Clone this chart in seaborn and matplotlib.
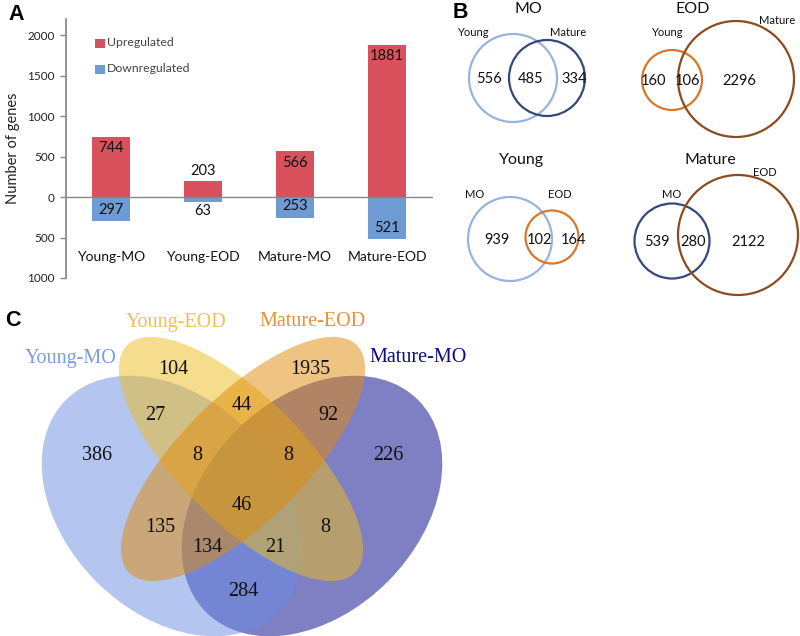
import numpy as np
import pandas as pd
import matplotlib
matplotlib.use("Agg")
import matplotlib.pyplot as plt
import seaborn as sns
from matplotlib.patches import Circle, Ellipse
from matplotlib.ticker import FuncFormatter

# A. differentially expressed genes per comparison
groups = ["Young-MO", "Young-EOD", "Mature-MO", "Mature-EOD"]
up_counts = [744, 203, 566, 1881]
down_counts = [297, 63, 253, 521]

# B. pairwise overlaps: (left only, shared, right only)
pair_titles = ["MO", "EOD", "Young", "Mature"]
pair_sets = [("Young", "Mature"), ("Young", "Mature"), ("MO", "EOD"), ("MO", "EOD")]
pair_counts = [(556, 485, 334), (160, 106, 2296), (939, 102, 164), (539, 280, 2122)]

# C. four-way overlap
quad_sets = ["Young-MO", "Young-EOD", "Mature-EOD", "Mature-MO"]
quad_regions = ["A", "B", "C", "D", "AB", "BC", "CD", "AD",
                "ABC", "BCD", "AC", "BD", "ACD", "ABD", "ABCD"]
quad_counts = [386, 104, 1935, 226, 27, 44, 92, 284, 8, 8, 135, 8, 134, 21, 46]

RED = "#D9515C"
BLUE = "#6E9BD4"
SANS = ["Lato", "DejaVu Sans"]
SERIF = ["Liberation Serif", "DejaVu Serif"]

sns.set_theme(style="white")
plt.rcParams["font.family"] = SANS

fig = plt.figure(figsize=(8, 6.36), dpi=100)

# ---------- panel A ----------
W, H = 800, 636
ax = fig.add_axes([66 / W, 1 - 278 / H, (433 - 66) / W, (278 - 19) / H])
df = pd.DataFrame({"group": groups, "up": up_counts,
                   "down": [-d for d in down_counts]})
sns.barplot(data=df, x="group", y="up", color=RED, width=0.41,
            saturation=1, linewidth=0, ax=ax)
sns.barplot(data=df, x="group", y="down", color=BLUE, width=0.41,
            saturation=1, linewidth=0, ax=ax)
ax.set_xlim(-0.49, 3.5)
ax.set_ylim(-1000, 2200)
ax.set_yticks(np.arange(-1000, 2001, 500))
ax.yaxis.set_major_formatter(FuncFormatter(lambda v, _: f"{abs(int(v))}"))
ax.tick_params(axis="y", left=True, length=4, width=1, color="#888888",
               labelsize=8.5, pad=4, labelcolor="#222222")
ax.set_xticks([])
ax.set_xlabel("")
ax.set_ylabel("Number of genes", fontsize=10.5, labelpad=5, color="#222222")
for s in ["top", "right", "bottom"]:
    ax.spines[s].set_visible(False)
ax.spines["left"].set_color("#888888")
ax.axhline(0, color="#888888", lw=1)

for i, (u, d) in enumerate(zip(up_counts, down_counts)):
    uy = u - 140 if u > 300 else u + 115
    dy = -d + 140 if d > 100 else -d - 110
    ax.text(i, uy, str(u), ha="center", va="center", fontsize=10.5, color="#111111")
    ax.text(i, dy, str(d), ha="center", va="center", fontsize=10.5, color="#111111")
    ax.text(i, -740, groups[i], ha="center", va="center", fontsize=10, color="#111111")

# legend as coloured squares
leg = fig.add_axes([0, 0, 1, 1], facecolor="none")
leg.set_xlim(0, W)
leg.set_ylim(H, 0)
leg.axis("off")
for (name, col, y) in [("Upregulated", RED, 43), ("Downregulated", BLUE, 69)]:
    leg.add_patch(plt.Rectangle((95, y - 4.5), 10, 9, color=col, lw=0))
    leg.text(107, y, name, va="center", ha="left", fontsize=8.8, color="#444444")

# ---------- panel B (pixel layout) ----------
pair_geom = [((513, 78, 44), (547, 78, 38)),
             ((672, 80, 30), (736, 79, 58)),
             ((510, 239, 42), (552, 237, 26.5)),
             ((672, 241, 37.5), (738, 235, 60))]
pair_colors = [("#96B4E0", "#34497A"), ("#D5782C", "#8C4B1F"),
               ("#96B4E0", "#D5782C"), ("#34497A", "#8C4B1F")]
title_pos = [(528, 9), (693, 9), (522, 160), (710, 160)]
set_label_pos = [((473, 33), (568, 33)), ((667, 33), (777, 20)),
                 ((475, 195), (560, 195)), ((672, 195), (765, 173))]
count_x = [(489, 531, 574), (653, 688, 739), (497, 539, 574), (657, 693, 748)]

for k in range(4):
    for (cx, cy, r), col in zip(pair_geom[k], pair_colors[k]):
        leg.add_patch(Circle((cx, cy), r, fill=False, ec=col, lw=1.6))
    tx, ty = title_pos[k]
    leg.text(tx, ty, pair_titles[k], ha="center", va="center", fontsize=11.5, color="#111111")
    for name, (lx, ly) in zip(pair_sets[k], set_label_pos[k]):
        leg.text(lx, ly, name, ha="center", va="center", fontsize=8, color="#111111")
    cy = pair_geom[k][0][1]
    for n, x in zip(pair_counts[k], count_x[k]):
        leg.text(x, cy + 1, str(n), ha="center", va="center", fontsize=10.5, color="#111111")

# ---------- panel C (pixel layout) ----------
quad_geom = {"Mature-MO": ((312, 506), 300, 214, 135, "#00008B"),
             "Young-MO": ((172, 506), 300, 214, 45, "#6A8DE2"),
             "Young-EOD": ((241, 459), 322, 125, 45, "#EDBD1C"),
             "Mature-EOD": ((243, 459), 322, 125, 135, "#E18A08")}
for name in ["Mature-MO", "Young-MO", "Young-EOD", "Mature-EOD"]:
    c, w, h, a, col = quad_geom[name]
    leg.add_patch(Ellipse(c, w, h, angle=a, fc=col, ec="none", alpha=0.5))

quad_label_pos = [(71, 358), (176, 322), (313, 322), (418, 358)]
quad_label_col = ["#7C9BE6", "#F0C050", "#E5913A", "#0B0B86"]
for name, (x, y), col in zip(quad_sets, quad_label_pos, quad_label_col):
    leg.text(x, y, name, ha="center", va="center", fontsize=14.5, color=col, family=SERIF)

region_pos = {"A": (97, 455), "B": (173, 370), "C": (310, 370), "D": (388, 455),
              "AB": (155, 415), "BC": (242, 405), "CD": (328, 415), "AD": (243, 592),
              "ABC": (197, 455), "BCD": (288, 455), "AC": (160, 528), "BD": (325, 528),
              "ACD": (207, 547), "ABD": (275, 547), "ABCD": (242, 505)}
for reg, n in zip(quad_regions, quad_counts):
    x, y = region_pos[reg]
    leg.text(x, y, str(n), ha="center", va="center", fontsize=14.5, color="#111111", family=SERIF)

# panel letters
for letter, (x, y) in zip("ABC", [(8, 14), (453, 13), (5, 320)]):
    leg.text(x, y, letter, ha="left", va="center", fontsize=15.5, fontweight="bold",
             color="black", family=["Liberation Sans", "DejaVu Sans"])

fig.savefig("out.png", dpi=100)
